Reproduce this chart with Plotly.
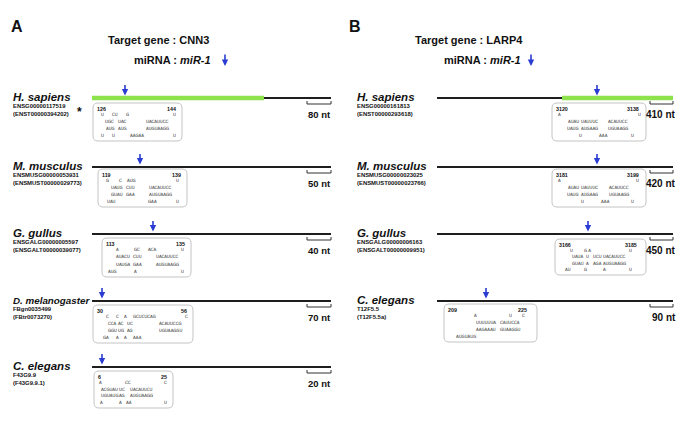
import plotly.graph_objects as go

# ---------------- data ----------------
target_A = "CNN3"
target_B = "LARP4"
mirna = "miR-1"

species_A = ["H. sapiens", "M. musculus", "G. gullus", "D. melanogaster", "C. elegans"]
gene_A = ["ENSG00000117519", "ENSMUSG00000053931", "ENSGALG00000005597", "FBgn0035499", "F43G9.9"]
tx_A = ["(ENST00000394202)", "(ENSMUST00000029773)", "(ENSGALT00000039077)", "(FBtr0073270)", "(F43G9.9.1)"]
site_start_A = [126, 119, 113, 30, 6]
site_end_A = [144, 139, 135, 56, 25]
scale_nt_A = [80, 50, 40, 70, 20]

species_B = ["H. sapiens", "M. musculus", "G. gullus", "C. elegans"]
gene_B = ["ENSG00000161813", "ENSMUSG00000023025", "ENSGALG00000006163", "T12F5.5"]
tx_B = ["(ENST00000293618)", "(ENSMUST00000023766)", "(ENSGALT00000009951)", "(T12F5.5a)"]
site_start_B = [3120, 3181, 3166, 209]
site_end_B = [3138, 3199, 3185, 225]
scale_nt_B = [410, 420, 450, 90]

# duplex rows: (x position, sequence fragment)
duplex_A = [
    [[(100, "U"), (111, "CU"), (125, "G"), (172, "U")],
     [(104, "UGC"), (117, "UAC"), (145, "UACAUUCC")],
     [(105, "AUG"), (117, "AUG"), (145, "AUGUAAGG")],
     [(100, "U"), (111, "U"), (129, "AAGAA"), (172, "U")]],
    [[(105, "G"), (118, "C"), (126, "AUG"), (175, "U")],
     [(110, "UAUG"), (125, "CUU"), (148, "UACAUUCC")],
     [(110, "GUAU"), (125, "GAA"), (148, "AUGUAAGG")],
     [(106, "UAU"), (147, "GAA"), (175, "U")]],
    [[(115, "A"), (133, "GC"), (147, "ACA"), (180, "U")],
     [(115, "AUACU"), (132, "CUU"), (155, "UACAUUCC")],
     [(115, "UAUGA"), (132, "GAA"), (155, "AUGUAAGG")],
     [(107, "AUG"), (133, "A"), (180, "U")]],
    [[(105, "C"), (115, "C"), (123, "A"), (132, "GCUCUCAG"), (184, "C")],
     [(107, "CCA"), (117, "AC"), (126, "UC"), (158, "ACAUUCCG")],
     [(107, "GGU"), (117, "UG"), (126, "AG"), (158, "UGUAAGGU")],
     [(102, "GA"), (115, "A"), (123, "A"), (132, "AAA")]],
    [[(98, "A"), (124, "CC"), (163, "C")],
     [(100, "ACGUAU"), (118, "UC"), (129, "UACAUUCU")],
     [(100, "UGUAUG"), (118, "AG"), (129, "AUGUAAGG")],
     [(99, "A"), (118, "A"), (125, "AA"), (163, "U")]],
]
duplex_B = [
    [[(557, "A"), (637, "U")],
     [(567, "AUAU"), (580, "UAUUUC"), (607, "ACAUUCC")],
     [(566, "UAUG"), (580, "AUGAAG"), (607, "UGUAAGG")],
     [(578, "U"), (598, "AAA"), (630, "U")]],
    [[(557, "A"), (635, "U")],
     [(567, "AUAU"), (580, "UAUUUC"), (608, "ACAUUCC")],
     [(566, "UAUG"), (580, "AUGAAG"), (608, "UGUAAGG")],
     [(580, "U"), (600, "AAA"), (630, "U")]],
    [[(569, "U"), (583, "G A"), (628, "U")],
     [(571, "UAUA"), (585, "U"), (592, "UCU"), (602, "UACAUUCC")],
     [(571, "GUAU"), (585, "A"), (592, "AGA"), (602, "AUGUAAGG")],
     [(564, "AU"), (583, "G"), (602, "A"), (628, "U")]],
    [[(473, "A"), (508, "U"), (521, "C")],
     [(475, "UUUUUUA"), (499, "CAUUCCA")],
     [(475, "AAGAAAU"), (499, "GUAAGGU")],
     [(455, "AUGUAUG")]],
]

# ---------------- layout geometry ----------------
W, H = 685, 428
FONT = "Liberation Sans, Arial, sans-serif"
NARROW = "Liberation Sans Narrow, DejaVu Sans Condensed, sans-serif"
BLUE = "#2b3cd2"
GREEN = "#8ee24e"
LINE = "#1e1e1e"

row_y_A = [98, 167, 234, 301, 367]
line_x_A = (92, 331)
utr_A = (92, 264)            # green segment (row 0 only)
arrow_x_A = [125, 140, 153, 102, 102]
box_A = [(93, 103, 182, 141), (98, 169, 187, 207), (102, 238, 191, 277),
         (93, 305, 193, 343), (94, 371, 173, 408)]
num_right_A = [177, 182, 186, 188, 168]
label_size_A = [11.5, 11.5, 11.5, 9.8, 11.5]
label_x_A = 12
scale_x_A = (307, 331)
scale_text_x_A = 332

row_y_B = [98, 167, 234, 301]
line_x_B = (437, 673)
utr_B = (562, 673)
arrow_x_B = [597, 597, 588, 486]
box_B = [(552, 103, 646, 141), (552, 169, 646, 207), (555, 239, 646, 275),
         (444, 304, 537, 342)]
num_right_B = [640, 640, 638, 528]
label_size_B = [11.5, 11.5, 11.5, 11.5]
label_x_B = 356
scale_x_B = (650, 673)
scale_text_x_B = 677

fig = go.Figure()
annotations = []
shapes = []


def txt(x, y, s, size, xanchor="left", family=FONT, color="#111"):
    annotations.append(dict(x=x, y=y, xref="x", yref="y", text=s, showarrow=False,
                            xanchor=xanchor, yanchor="middle", borderpad=0,
                            font=dict(family=family, size=size, color=color)))


def arrow(x, y_tip, length=12):
    annotations.append(dict(x=x, y=y_tip, xref="x", yref="y", text="", showarrow=True,
                            ax=0, ay=-length, arrowhead=2, arrowsize=0.8,
                            arrowwidth=1.6, arrowcolor=BLUE, standoff=0))


def seg(xs, ys, color, width):
    fig.add_trace(go.Scatter(x=xs, y=ys, mode="lines", hoverinfo="skip",
                             line=dict(color=color, width=width), showlegend=False))


def rbox(x0, y0, x1, y1, r=5):
    path = (f"M {x0+r},{y0} L {x1-r},{y0} Q {x1},{y0} {x1},{y0+r} "
            f"L {x1},{y1-r} Q {x1},{y1} {x1-r},{y1} L {x0+r},{y1} "
            f"Q {x0},{y1} {x0},{y1-r} L {x0},{y0+r} Q {x0},{y0} {x0+r},{y0} Z")
    shapes.append(dict(type="path", path=path, xref="x", yref="y",
                       line=dict(color="#c4c4c4", width=1), fillcolor="rgba(0,0,0,0)"))


def panel(species, genes, txs, starts, ends, scales, duplex, row_y, line_x, utr,
          arrow_x, boxes, num_right, label_x, label_size, scale_x, scale_tx, scale_size):
    for i in range(len(species)):
        y = row_y[i]
        seg([line_x[0], line_x[1]], [y, y], LINE, 2)
        if i == 0:
            seg([utr[0], utr[1]], [y, y], GREEN, 4.5)
        arrow(arrow_x[i], y - 2.5)
        txt(label_x, y - 1, f"<b><i>{species[i]}</i></b>", label_size[i])
        txt(label_x, y + 8, f"<b>{genes[i]}</b>", 5.9)
        txt(label_x, y + 16, f"<b>{txs[i]}</b>", 5.9)
        # scale bar
        sy = y + 6
        seg([scale_x[0], scale_x[0], scale_x[1], scale_x[1]],
            [sy - 3, sy, sy, sy - 3], "#333", 1)
        txt(scale_tx, y + 16, f"<b>{scales[i]} nt</b>", scale_size, xanchor="right")
        # box
        x0, y0, x1, y1 = boxes[i]
        rbox(x0, y0, x1, y1)
        txt(x0 + 3, y0 + 5.5, f"<b>{starts[i]}</b>", 5.3)
        txt(num_right[i], y0 + 5.5, f"<b>{ends[i]}</b>", 5.3, xanchor="right")
        rows = duplex[i]
        r_top, r_bot = y0 + 11.5, y1 - 5.5
        step = (r_bot - r_top) / (len(rows) - 1) if len(rows) > 1 else 0
        for k, row in enumerate(rows):
            ry = r_top + k * step
            for (tx, s) in row:
                txt(tx, ry, s, 4.4, family=NARROW, color="#222")


panel(species_A, gene_A, tx_A, site_start_A, site_end_A, scale_nt_A, duplex_A,
      row_y_A, line_x_A, utr_A, arrow_x_A, box_A, num_right_A, label_x_A, label_size_A,
      scale_x_A, scale_text_x_A, 9.5)
panel(species_B, gene_B, tx_B, site_start_B, site_end_B, scale_nt_B, duplex_B,
      row_y_B, line_x_B, utr_B, arrow_x_B, box_B, num_right_B, label_x_B, label_size_B,
      scale_x_B, scale_text_x_B, 10)

# asterisk next to human CNN3 transcript
txt(76, 112, "<b>*</b>", 12)

# panel letters and titles
txt(10, 26, "<b>A</b>", 16)
txt(348, 26, "<b>B</b>", 16)
txt(158, 40, f"<b>Target gene : {target_A}</b>", 11, xanchor="center")
txt(172, 60, f"<b>miRNA : <i>{mirna}</i></b>", 11, xanchor="center")
arrow(225, 66, 13)
txt(469, 40, f"<b>Target gene : {target_B}</b>", 11, xanchor="center")
txt(482, 60, f"<b>miRNA : <i>{mirna}</i></b>", 11, xanchor="center")
arrow(531, 66, 13)

fig.update_layout(
    width=W, height=H, margin=dict(l=0, r=0, t=0, b=0),
    paper_bgcolor="white", plot_bgcolor="white",
    xaxis=dict(range=[0, W], visible=False, fixedrange=True),
    yaxis=dict(range=[H, 0], visible=False, fixedrange=True),
    annotations=annotations, shapes=shapes, showlegend=False,
)
fig.write_html("out.html", config={"displayModeBar": False},
               post_script="document.body.style.margin='0';document.body.style.padding='0';")
